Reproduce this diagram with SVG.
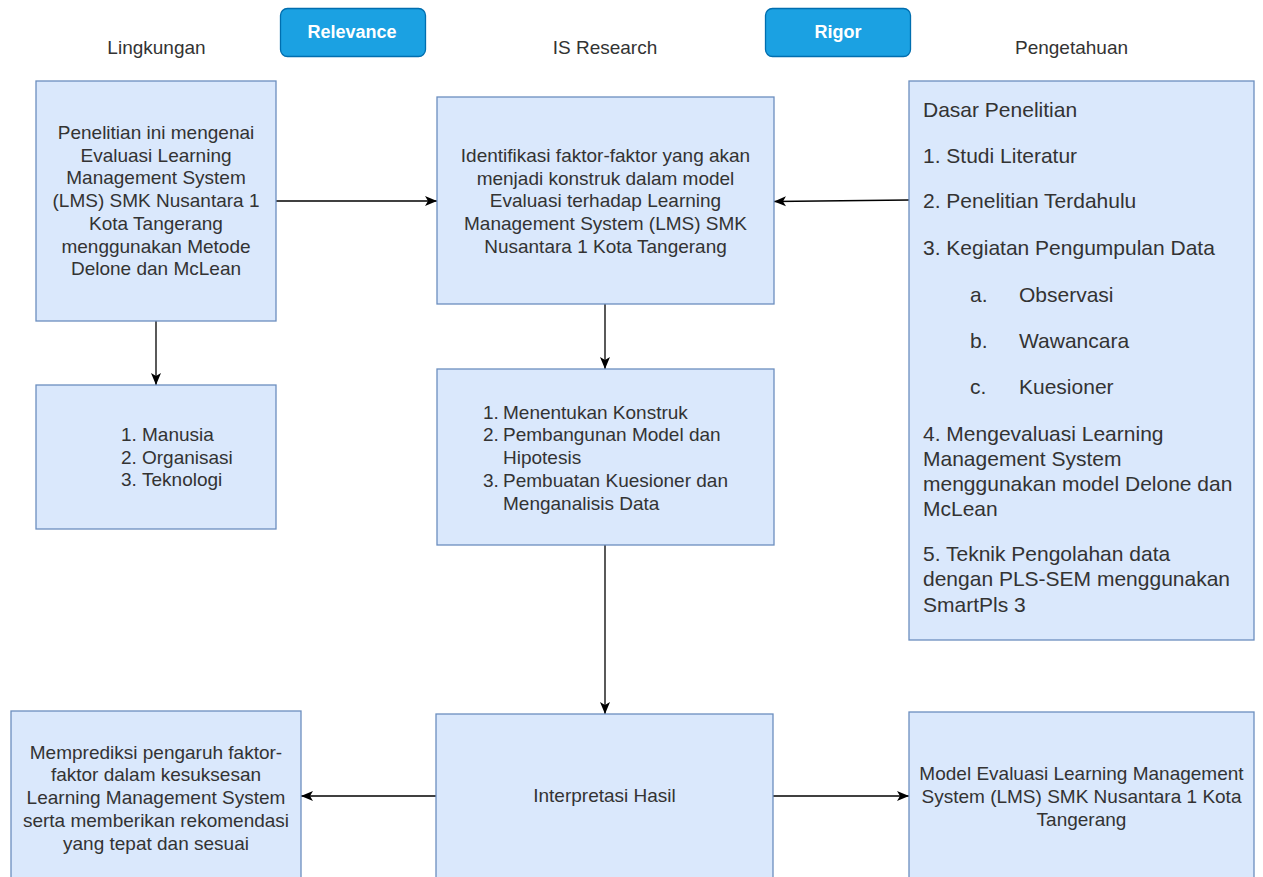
<svg xmlns="http://www.w3.org/2000/svg" width="1263" height="877" viewBox="0 0 1263 877">
<style>
.box{fill:#dae8fc;stroke:#6c8ebf;stroke-width:1.3}
.btn{fill:#1ba1e2;stroke:#006eaf;stroke-width:1.3}
.t{font-family:"Liberation Sans",Arial,sans-serif;font-size:19px;fill:#333}
.r{font-size:21px}
.c{text-anchor:middle}
.bt{font-family:"Liberation Sans",Arial,sans-serif;font-size:18px;font-weight:bold;fill:#fff;text-anchor:middle}
.edge{fill:none;stroke:#000;stroke-width:1.3}
</style>
<defs>
<marker id="arr" markerUnits="userSpaceOnUse" markerWidth="13" markerHeight="11" refX="12" refY="5.5" orient="auto">
<path d="M0,0.5 L12,5.5 L0,10.5 L3,5.5 Z" fill="#000"/>
</marker>
</defs>
<rect width="1263" height="877" fill="#fff"/>

<g id="headers">
<text class="t c" x="156.5" y="54">Lingkungan</text>
<text class="t c" x="605" y="54">IS Research</text>
<text class="t c" x="1071.5" y="54">Pengetahuan</text>
</g>

<g id="relevance">
<rect class="btn" x="280.5" y="8.5" width="145" height="48" rx="7"/>
<text class="bt" x="352" y="38">Relevance</text>
</g>
<g id="rigor">
<rect class="btn" x="765.5" y="8.5" width="145" height="48" rx="7"/>
<text class="bt" x="838" y="38">Rigor</text>
</g>

<g id="connectors">
<line class="edge" x1="276" y1="201" x2="437" y2="201" marker-end="url(#arr)"/>
<line class="edge" x1="909" y1="200" x2="774" y2="201.5" marker-end="url(#arr)"/>
<line class="edge" x1="156" y1="321" x2="156" y2="385" marker-end="url(#arr)"/>
<line class="edge" x1="605" y1="304" x2="605" y2="369" marker-end="url(#arr)"/>
<line class="edge" x1="605" y1="545" x2="605" y2="714" marker-end="url(#arr)"/>
<line class="edge" x1="436" y1="796" x2="301" y2="796" marker-end="url(#arr)"/>
<line class="edge" x1="773" y1="796" x2="909" y2="796" marker-end="url(#arr)"/>
</g>

<g id="lingkungan-box">
<rect class="box" x="36" y="81" width="240" height="240"/>
<text class="t c" x="156" y="139">Penelitian ini mengenai</text>
<text class="t c" x="156" y="161.7">Evaluasi Learning</text>
<text class="t c" x="156" y="184.4">Management System</text>
<text class="t c" x="156" y="207.1">(LMS) SMK Nusantara 1</text>
<text class="t c" x="156" y="229.8">Kota Tangerang</text>
<text class="t c" x="156" y="252.5">menggunakan Metode</text>
<text class="t c" x="156" y="275.2">Delone dan McLean</text>
</g>

<g id="manusia-box">
<rect class="box" x="36" y="385" width="240" height="144"/>
<text class="t" x="121" y="441">1.</text><text class="t" x="142" y="441">Manusia</text>
<text class="t" x="121" y="463.7">2.</text><text class="t" x="142" y="463.7">Organisasi</text>
<text class="t" x="121" y="486.4">3.</text><text class="t" x="142" y="486.4">Teknologi</text>
</g>

<g id="identifikasi-box">
<rect class="box" x="437" y="97" width="337" height="207"/>
<text class="t c" x="605.5" y="162">Identifikasi faktor-faktor yang akan</text>
<text class="t c" x="605.5" y="184.7">menjadi konstruk dalam model</text>
<text class="t c" x="605.5" y="207.4">Evaluasi terhadap Learning</text>
<text class="t c" x="605.5" y="230.1">Management System (LMS) SMK</text>
<text class="t c" x="605.5" y="252.8">Nusantara 1 Kota Tangerang</text>
</g>

<g id="konstruk-box">
<rect class="box" x="437" y="369" width="337" height="176"/>
<text class="t" x="483" y="418.7">1.</text><text class="t" x="503" y="418.7">Menentukan Konstruk</text>
<text class="t" x="483" y="441.4">2.</text><text class="t" x="503" y="441.4">Pembangunan Model dan</text>
<text class="t" x="503" y="464.1">Hipotesis</text>
<text class="t" x="483" y="486.8">3.</text><text class="t" x="503" y="486.8">Pembuatan Kuesioner dan</text>
<text class="t" x="503" y="509.5">Menganalisis Data</text>
</g>

<g id="pengetahuan-box">
<rect class="box" x="909" y="81" width="345" height="559"/>
<text class="t r" x="923" y="116.5">Dasar Penelitian</text>
<text class="t r" x="923" y="162.5">1. Studi Literatur</text>
<text class="t r" x="923" y="207.5">2. Penelitian Terdahulu</text>
<text class="t r" x="923" y="254.5">3. Kegiatan Pengumpulan Data</text>
<text class="t r" x="970" y="301.5">a.</text><text class="t r" x="1019" y="301.5">Observasi</text>
<text class="t r" x="970" y="347.5">b.</text><text class="t r" x="1019" y="347.5">Wawancara</text>
<text class="t r" x="970" y="393.5">c.</text><text class="t r" x="1019" y="393.5">Kuesioner</text>
<text class="t r" x="923" y="440.5">4. Mengevaluasi Learning</text>
<text class="t r" x="923" y="465.5">Management System</text>
<text class="t r" x="923" y="490.5">menggunakan model Delone dan</text>
<text class="t r" x="923" y="515.5">McLean</text>
<text class="t r" x="923" y="560.5">5. Teknik Pengolahan data</text>
<text class="t r" x="923" y="586">dengan PLS-SEM menggunakan</text>
<text class="t r" x="923" y="611.5">SmartPls 3</text>
</g>

<g id="prediksi-box">
<rect class="box" x="11" y="711" width="290" height="180"/>
<text class="t c" x="156" y="758.7">Memprediksi pengaruh faktor-</text>
<text class="t c" x="156" y="781.4">faktor dalam kesuksesan</text>
<text class="t c" x="156" y="804.1">Learning Management System</text>
<text class="t c" x="156" y="826.8">serta memberikan rekomendasi</text>
<text class="t c" x="156" y="849.5">yang tepat dan sesuai</text>
</g>

<g id="interpretasi-box">
<rect class="box" x="436" y="714" width="337" height="180"/>
<text class="t c" x="604.5" y="802">Interpretasi Hasil</text>
</g>

<g id="model-box">
<rect class="box" x="909" y="712" width="345" height="180"/>
<text class="t c" x="1081.5" y="780.3">Model Evaluasi Learning Management</text>
<text class="t c" x="1081.5" y="803">System (LMS) SMK Nusantara 1 Kota</text>
<text class="t c" x="1081.5" y="825.7">Tangerang</text>
</g>
</svg>
